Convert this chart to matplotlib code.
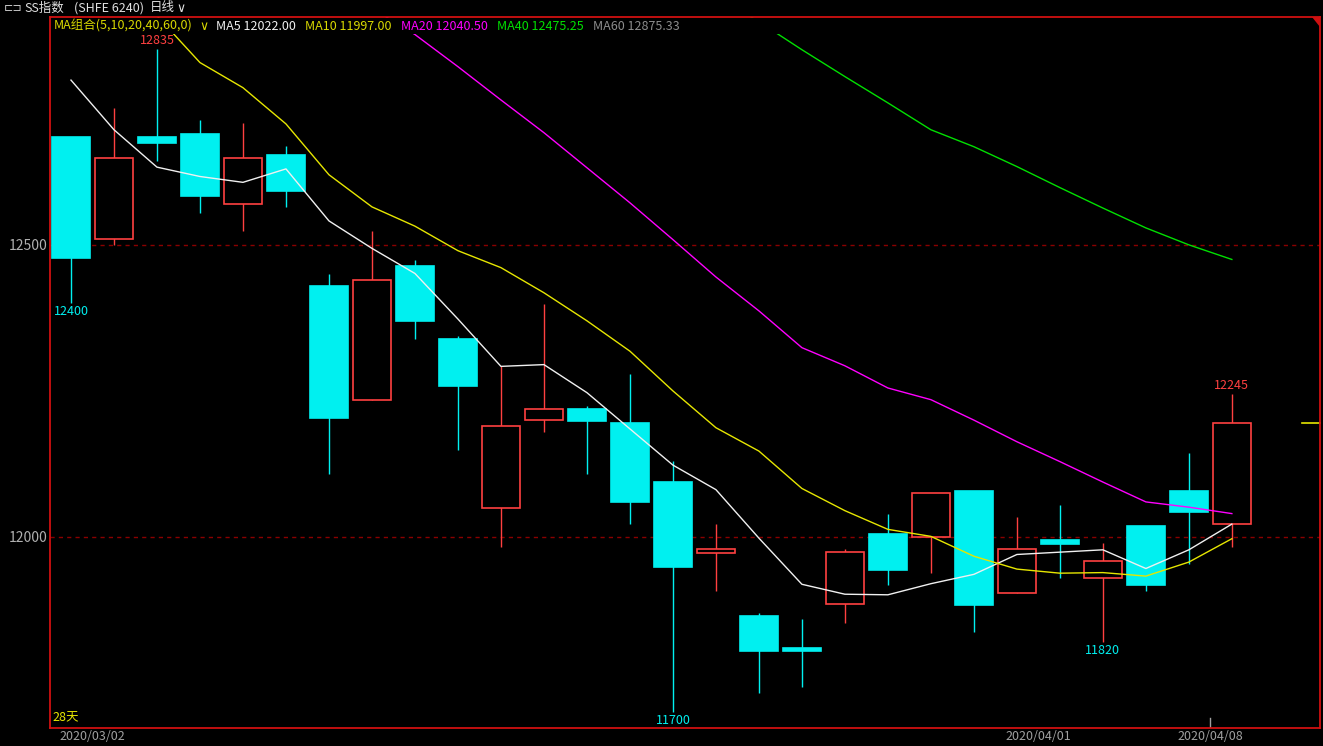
import numpy as np
import matplotlib
matplotlib.use("Agg")
import matplotlib.pyplot as plt
from matplotlib.patches import Rectangle, Polygon

plt.rcParams['font.family'] = ['Noto Sans CJK SC', 'DejaVu Sans']

# daily candles, 2020/03/02 .. 2020/04/09 (28 trading days)
opens = [12685, 12510, 12685, 12690, 12570, 12654, 12430, 12234, 12464, 12339,
         12049, 12200, 12219, 12195, 12094, 11973, 11865, 11810, 11885, 12005,
         12000, 12079, 11904, 11995, 11929, 12019, 12079, 12023]
closes = [12478, 12649, 12674, 12583, 12649, 12593, 12203, 12440, 12369, 12259,
          12190, 12219, 12199, 12059, 11949, 11979, 11804, 11804, 11974, 11944,
          12075, 11884, 11979, 11988, 11958, 11918, 12043, 12195]
highs = [12685, 12735, 12835, 12714, 12709, 12670, 12450, 12524, 12474, 12344,
         12293, 12399, 12224, 12279, 12130, 12023, 11870, 11860, 11979, 12039,
         12075, 12079, 12034, 12055, 11990, 12019, 12144, 12245]
lows = [12400, 12499, 12644, 12554, 12523, 12564, 12108, 12234, 12338, 12148,
        11983, 12179, 12108, 12023, 11700, 11908, 11733, 11744, 11853, 11918,
        11939, 11838, 11904, 11929, 11820, 11908, 11953, 11983]

nan = np.nan
ma5 = [12782, 12697, 12633, 12617, 12607, 12630, 12541, 12494, 12451, 12373,
       12292, 12295, 12247, 12185, 12123, 12081, 11998, 11919, 11902, 11901,
       11920, 11936, 11970, 11974, 11978, 11946, 11978, 12022]
ma10 = [nan, nan, 12892, 12812, 12769, 12707, 12620, 12565, 12532, 12490,
        12461, 12418, 12370, 12318, 12250, 12187, 12147, 12083, 12045, 12013,
        12001, 11967, 11945, 11938, 11939, 11933, 11957, 11997]
ma20 = [nan] * 7 + [12905, 12860, 12805, 12748, 12692, 12632, 12572, 12509, 12445,
                    12387, 12324, 12293, 12255, 12235, 12200, 12163, 12129, 12094,
                    12060, 12051, 12040]
ma40 = [nan] * 15 + [12925, 12882, 12834, 12788, 12743, 12697, 12668, 12634, 12598,
                     12563, 12529, 12500, 12475]

legend_names = ["MA5", "MA10", "MA20", "MA40", "MA60"]
legend_values = [12022.00, 11997.00, 12040.50, 12475.25, 12875.33]
legend_colors = ["#f0f0f0", "#d8d800", "#ff00ff", "#00e000", "#8c8c8c"]
legend_x = [216, 305, 401, 497, 593]

date_labels = ["2020/03/02", "2020/04/01", "2020/04/08"]
date_idx = [0, 22, 26]

# extreme price labels
mark_idx = [2, 0, 14, 24, 27]
mark_val = [12835, 12400, 11700, 11820, 12245]
mark_top = [True, False, False, False, True]

up_col = "#ff4040"
down_col = "#00f0f0"
frame_col = "#d01010"

W, H = 1323, 746
fig = plt.figure(figsize=(W / 100, H / 100), dpi=100, facecolor="black")
ax = fig.add_axes([50 / W, 18 / H, 1270 / W, 711 / H])
ax.set_facecolor("black")
ax.set_xlim(-0.488, 29.05)
ax.set_ylim(11673, 12890)

x = np.arange(len(opens))
o = np.array(opens)
c = np.array(closes)
up = c > o
cols = [up_col if u else down_col for u in up]

# wicks then bodies
ax.vlines(x, lows, highs, colors=cols, lw=1, zorder=2)
bottoms = np.minimum(o, c)
heights = np.maximum(np.abs(c - o), 1)
faces = ["black" if u else down_col for u in up]
ax.bar(x, heights, bottom=bottoms, width=0.9, color=faces, edgecolor=cols,
       linewidth=1.2, zorder=3)

ax.plot(x, ma5, color="#f0f0f0", lw=1, zorder=4)
ax.plot(x, ma10, color="#e6e600", lw=1, zorder=4)
ax.plot(x, ma20, color="#ff00ff", lw=1, zorder=4)
ax.plot(x, ma40, color="#00e000", lw=1, zorder=4)

# dashed reference levels
for lv in [12000, 12500]:
    ax.axhline(lv, color="#8a0000", lw=1, ls=(0, (3, 3)), zorder=1)

# legend band hides lines near the top
ax.add_patch(Rectangle((0, 1 - 17 / 711), 1, 17 / 711 - 0.001, transform=ax.transAxes,
                       facecolor="black", edgecolor="none", zorder=5))

# last price marker on the right
ax.plot([28.63, 29.05], [closes[-1], closes[-1]], color="#e6e600", lw=1.2,
        zorder=4, clip_on=False)

ax.set_xticks([])
ax.set_yticks([12000, 12500])
ax.set_yticklabels(["12000", "12500"])
ax.tick_params(axis="y", length=0, colors="#b0b0b0", labelsize=10, pad=2)
for sp in ax.spines.values():
    sp.set_color(frame_col)
    sp.set_linewidth(1.3)
    sp.set_zorder(6)

for i, v, top in zip(mark_idx, mark_val, mark_top):
    if top:
        ax.annotate(str(v), (i, v), xytext=(0, 1.5), textcoords="offset points",
                    ha="center", va="bottom", color=up_col, fontsize=9, zorder=6)
    else:
        ax.annotate(str(v), (i, v), xytext=(0, -1.5), textcoords="offset points",
                    ha="center", va="top", color=down_col, fontsize=9, zorder=6)

ax.text(0.002, 10 / 711, "28天", transform=ax.transAxes, color="#e6e600",
        fontsize=9, ha="left", va="center", zorder=6)

trans = ax.get_xaxis_transform()
for lab, i in zip(date_labels, date_idx):
    ax.text(i + 0.5, -9 / 711, lab, transform=trans, color="#a0a0a0", fontsize=9,
            ha="center", va="center", clip_on=False)
ax.plot([26.5, 26.5], [0, 10 / 711], transform=trans, color="#a0a0a0", lw=1, zorder=6)

# small red corner triangle
ax.add_patch(Polygon([(1 - 8 / 1270, 1), (1, 1), (1, 1 - 10 / 711)], closed=True,
                     transform=ax.transAxes, facecolor=frame_col, edgecolor="none",
                     zorder=6, clip_on=False))

# header row
def fy(py):
    return 1 - py / H

fig.text(4 / W, fy(8), "⊏⊐", color="#d0d0d0", fontsize=8, va="center",
         family=["DejaVu Sans"])
fig.text(24 / W, fy(8), "SS指数", color="#e0e0e0", fontsize=9, va="center")
fig.text(74 / W, fy(8), "(SHFE 6240)", color="#e0e0e0", fontsize=9, va="center")
fig.text(150 / W, fy(8), "日线", color="#e0e0e0", fontsize=9, va="center")
fig.text(176 / W, fy(8), "∨", color="#e0e0e0", fontsize=9, va="center",
         family=["DejaVu Sans"])

fig.text(54 / W, fy(26), "MA组合(5,10,20,40,60,0)", color="#d8d800", fontsize=9,
         va="center")
fig.text(199 / W, fy(26), "∨", color="#d8d800", fontsize=9, va="center",
         family=["DejaVu Sans"])
for name, val, col, px in zip(legend_names, legend_values, legend_colors, legend_x):
    fig.text(px / W, fy(26), f"{name} {val:.2f}", color=col, fontsize=9, va="center")

fig.savefig("out.png", dpi=100, facecolor="black")
